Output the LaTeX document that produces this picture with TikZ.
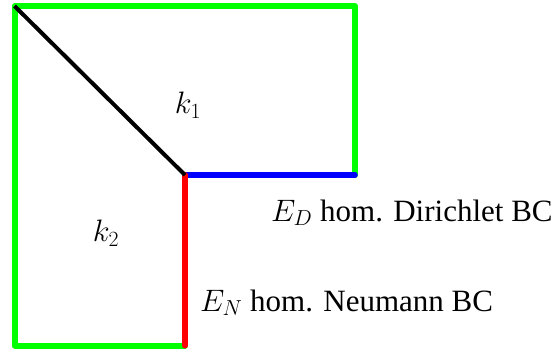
\RequirePackage{fix-cm}
\documentclass[tikz,border=0pt]{standalone}
\usepackage{fontspec}
\setmainfont{Liberation Serif}
\begin{document}
\begin{tikzpicture}[x=1pt,y=-1pt,
  edge/.style={line width=6pt,line cap=round,line join=round},
  lbl/.style={inner sep=0pt,font=\fontsize{31}{36}\selectfont}]
\useasboundingbox (0,0) rectangle (554,349);
\coordinate (tl) at (14.5,6);
\coordinate (tr) at (355,6);
\coordinate (r) at (355,175);
\coordinate (c) at (185,175);
\coordinate (b) at (185,345.5);
\coordinate (bl) at (14.5,345.5);
\draw[edge,green] (b) -- (bl) -- (tl) -- (tr) -- (r);
\draw[edge,blue,line width=5.5pt] (c) -- (r);
\draw[edge,red] (c) -- (b);
\draw[line width=4pt,black] (tl) -- (c);
\node[lbl] (k1) at (188,105) {$k_1$};
\node[lbl] (k2) at (106,233) {$k_2$};
\node[lbl,anchor=base west] (ed) at (271,221) {$E_D$ hom. Dirichlet BC};
\node[lbl,anchor=base west] (en) at (200,311) {$E_N$ hom. Neumann BC};
\end{tikzpicture}
\end{document}
